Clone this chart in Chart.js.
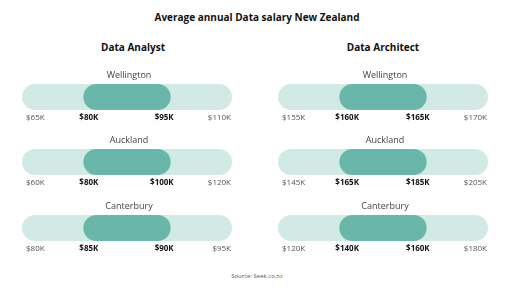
<!DOCTYPE html>
<html><head><meta charset="utf-8">
<script src="https://cdn.jsdelivr.net/npm/chart.js@4.4.0/dist/chart.umd.min.js"></script>
<style>
html,body{margin:0;padding:0;background:#fff;width:513px;height:289px;overflow:hidden;font-family:"Open Sans",sans-serif}
.t{position:absolute;white-space:nowrap;transform:translate(-50%,-50%);line-height:1}
canvas{position:absolute}
</style></head><body>
<div class="t" style="left:257px;top:17px;font-size:10px;font-weight:700;color:#111">Average annual Data salary New Zealand</div>
<div class="t" id="sub0" style="left:133px;top:47px;font-size:10px;font-weight:700;color:#111"></div>
<div class="t" id="sub1" style="left:383px;top:47px;font-size:10px;font-weight:700;color:#111"></div>
<div class="t" style="left:257px;top:276px;font-size:6px;color:#555">Source: Seek.co.nz</div>
<script>
const roles = ["Data Analyst", "Data Architect"];
const cities = ["Wellington", "Auckland", "Canterbury"];
// salaries in $K
const analystMin  = [65, 60, 80];
const analystLow  = [80, 80, 85];
const analystHigh = [95, 100, 90];
const analystMax  = [110, 120, 95];
const architectMin  = [155, 145, 120];
const architectLow  = [160, 165, 140];
const architectHigh = [165, 185, 160];
const architectMax  = [170, 205, 180];

const fmt = v => "$" + v + "K";
const LIGHT = "#d2eae5", DARK = "#69b7aa";
const rowCenters = [96.5, 162, 227.5];
const colLeft = [0, 256];

document.getElementById("sub0").textContent = roles[0];
document.getElementById("sub1").textContent = roles[1];

const labelPlugin = {
  id: "rowLabels",
  afterDatasetsDraw(chart, args, opts) {
    const ctx = chart.ctx, xs = chart.scales.x, ys = chart.scales.y;
    const cy = ys.getPixelForValue(0);
    const pMin = xs.getPixelForValue(opts.min), pMax = xs.getPixelForValue(opts.max);
    const pLo = xs.getPixelForValue(opts.lo), pHi = xs.getPixelForValue(opts.hi);
    ctx.save();
    ctx.textBaseline = "middle";
    ctx.fillStyle = "#444";
    ctx.font = '9px "Open Sans"';
    ctx.textAlign = "center";
    ctx.fillText(opts.city, (pMin + pMax) / 2 + 2, cy - 21.5);
    const ly = cy + 20.5;
    ctx.font = '8px "Open Sans"';
    ctx.fillStyle = "#555";
    ctx.textAlign = "left";
    ctx.fillText(fmt(opts.min), pMin - 9, ly);
    ctx.textAlign = "right";
    ctx.fillText(fmt(opts.max), pMax + 12, ly);
    ctx.font = 'bold 8px "Open Sans"';
    ctx.fillStyle = "#111";
    ctx.textAlign = "left";
    ctx.fillText(fmt(opts.lo), pLo - 17, ly);
    ctx.textAlign = "right";
    ctx.fillText(fmt(opts.hi), pHi + 16, ly);
    ctx.restore();
  }
};

function makeRow(col, row, mn, lo, hi, mx) {
  const c = document.createElement("canvas");
  const w = col === 0 ? 256 : 257, h = 64;
  c.width = w; c.height = h;
  c.style.left = colLeft[col] + "px";
  c.style.top = (rowCenters[row] - 32) + "px";
  c.style.width = w + "px"; c.style.height = h + "px";
  document.body.appendChild(c);
  new Chart(c, {
    type: "line",
    data: {
      datasets: [
        { data: [{x: lo, y: 0}, {x: hi, y: 0}], borderColor: DARK, borderWidth: 26, borderCapStyle: "round", pointRadius: 0, order: 0, clip: false },
        { data: [{x: mn, y: 0}, {x: mx, y: 0}], borderColor: LIGHT, borderWidth: 26, borderCapStyle: "round", pointRadius: 0, order: 1, clip: false }
      ]
    },
    options: {
      responsive: false, animation: false, devicePixelRatio: 1,
      layout: { padding: { left: 35, right: w - 219, top: 19, bottom: 19 } },
      scales: {
        x: { type: "linear", display: false, min: mn, max: mx },
        y: { type: "linear", display: false, min: -1, max: 1 }
      },
      plugins: {
        legend: { display: false }, tooltip: { enabled: false },
        rowLabels: { city: cities[row], min: mn, lo: lo, hi: hi, max: mx }
      }
    },
    plugins: [labelPlugin]
  });
}

for (let i = 0; i < 3; i++) {
  makeRow(0, i, analystMin[i], analystLow[i], analystHigh[i], analystMax[i]);
  makeRow(1, i, architectMin[i], architectLow[i], architectHigh[i], architectMax[i]);
}
</script>
</body></html>
